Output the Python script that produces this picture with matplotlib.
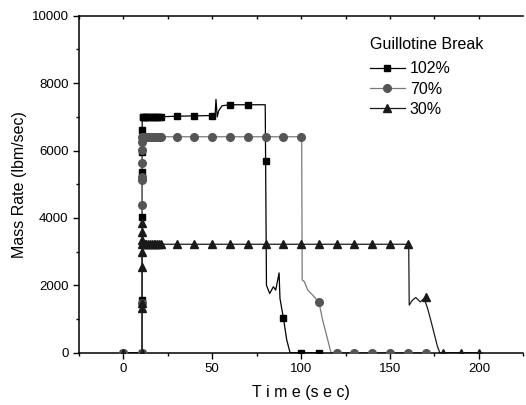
import matplotlib
matplotlib.use("Agg")
import matplotlib.pyplot as plt
from matplotlib.lines import Line2D
from matplotlib.ticker import MultipleLocator

plt.rcParams['font.family'] = ['Liberation Sans', 'DejaVu Sans']

# ---------------- data ----------------
series_labels = ["102%", "70%", "30%"]

# continuous time histories (line)
t102_line = [0, 10.5, 10.6, 11, 20, 30, 40, 50, 51.6, 52.1, 52.8, 53.6, 55.5, 60, 70, 79.8,
             80.5, 82.3, 84.4, 85.7, 87.6, 88.1, 90, 91.9, 93.8, 100, 110]
v102_line = [0, 0, 6990, 7000, 7000, 7020, 7030, 7040, 7050, 7520, 7000, 7180, 7330, 7360, 7360, 7360,
             2000, 1760, 1960, 1860, 2370, 1610, 1040, 380, 0, 0, 0]

t70_line = [0, 10.5, 10.6, 11, 20, 30, 40, 50, 60, 70, 80, 90, 100.3,
            100.6, 101.8, 103.7, 106.5, 110, 112.1, 114.5, 116.8, 120, 130, 140, 150, 160, 170]
v70_line = [0, 0, 6410, 6410, 6410, 6410, 6410, 6410, 6410, 6410, 6410, 6410, 6410,
            2160, 2110, 1860, 1710, 1500, 970, 480, 0, 0, 0, 0, 0, 0, 0]

t30_line = [0, 10.5, 10.6, 11, 20, 60, 100, 140, 160.5,
            160.8, 162.6, 164.5, 167, 169.2, 171.1, 172.9, 174.8, 176.7, 178, 190, 200]
v30_line = [0, 0, 3220, 3220, 3220, 3220, 3220, 3220, 3220,
            1415, 1560, 1640, 1510, 1610, 1320, 970, 575, 180, 0, 0, 0]

# symbol positions
t102_mk = [0, 10.5, 10.5, 10.5, 10.5, 10.5, 10.6, 10.8,
           11, 12, 13, 14, 15, 16, 17, 18, 19, 20, 21,
           30, 40, 50, 60, 70, 80, 90, 100, 110]
v102_mk = [0, 0, 1560, 4040, 5370, 5965, 6610, 7000,
           7000, 7000, 7000, 7000, 7000, 7000, 7000, 7000, 7000, 7000, 7000,
           7020, 7030, 7040, 7360, 7360, 5700, 1040, 0, 0]

t70_mk = [0, 10.5, 10.5, 10.5, 10.5, 10.5, 10.5, 10.5, 10.5, 10.6, 10.8,
          11.5, 12, 13, 14, 15, 16, 17, 18, 19, 20, 21,
          30, 40, 50, 60, 70, 80, 90, 100, 110, 120, 130, 140, 150, 160, 170]
v70_mk = [0, 0, 1466, 4380, 5125, 5220, 5620, 6015, 6260, 6410, 6410,
          6410, 6410, 6410, 6410, 6410, 6410, 6410, 6410, 6410, 6410, 6410,
          6410, 6410, 6410, 6410, 6410, 6410, 6410, 6410, 1500, 0, 0, 0, 0, 0, 0]

t30_mk = [0, 10.5, 10.5, 10.5, 10.5, 10.5, 10.5, 10.5, 10.5, 10.6,
          12, 13, 14, 15, 16, 17, 18, 19, 20, 21,
          30, 40, 50, 60, 70, 80, 90, 100, 110, 120, 130, 140, 150, 160, 170, 180, 190, 200]
v30_mk = [0, 0, 1320, 1466, 2550, 3000, 3340, 3590, 3840, 3220,
          3220, 3220, 3220, 3220, 3220, 3220, 3220, 3220, 3220, 3220,
          3220, 3220, 3220, 3220, 3220, 3220, 3220, 3220, 3220, 3220, 3220, 3220, 3220, 3220, 1650, 0, 0, 0]

x_ticks = [0, 50, 100, 150, 200]
y_ticks = [0, 2000, 4000, 6000, 8000, 10000]

# ---------------- figure ----------------
fig = plt.figure(figsize=(5.26, 4.05), dpi=100)
ax = fig.add_axes([0.150, 0.129, 0.845, 0.832])

black = "#000000"
gray_mk = "#555555"
gray_ln = "#7a7a7a"
dark = "#1a1a1a"

ax.plot(t102_line, v102_line, color=black, lw=0.9, zorder=2)
ax.plot(t70_line, v70_line, color=gray_ln, lw=0.9, zorder=2)
ax.plot(t30_line, v30_line, color=dark, lw=0.9, zorder=2)

ax.plot(t102_mk, v102_mk, ls="none", marker="s", ms=5, color=black, zorder=3)
ax.plot(t70_mk, v70_mk, ls="none", marker="o", ms=5.5, color=gray_mk, zorder=4)
ax.plot(t30_mk, v30_mk, ls="none", marker="^", ms=6.2, color=dark, zorder=5)

ax.set_xlim(-25, 225)
ax.set_ylim(0, 10000)
ax.set_xticks(x_ticks)
ax.set_yticks(y_ticks)
ax.xaxis.set_minor_locator(MultipleLocator(25))
ax.yaxis.set_minor_locator(MultipleLocator(1000))

for s in ["left", "bottom", "top"]:
    ax.spines[s].set_linewidth(1.1)
ax.spines["right"].set_visible(False)

ax.tick_params(axis="both", which="major", direction="out", length=4.5, width=1.0,
               labelsize=9.5, pad=3)
ax.tick_params(axis="both", which="minor", direction="out", length=2.3, width=1.0)
ax.tick_params(axis="x", which="both", top=False)
# top ticks inward
secx = ax.secondary_xaxis("top")
secx.set_xticks([-25] + [25 * i for i in range(0, 9)])
secx.tick_params(direction="in", length=2.3, width=1.0, labelsize=0)
secx.set_xticklabels([])
secx.spines["top"].set_visible(False)

ax.set_xlabel("T i m e (s e c)", fontsize=11.5, labelpad=7)
ax.set_ylabel("Mass Rate (lbm/sec)", fontsize=11.5, labelpad=3)

handles = [
    Line2D([], [], color=black, lw=0.9, marker="s", ms=5),
    Line2D([], [], color=gray_ln, lw=0.9, marker="o", ms=5.5, mfc=gray_mk, mec=gray_mk),
    Line2D([], [], color=dark, lw=0.9, marker="^", ms=6.2),
]
leg = ax.legend(handles, series_labels, title="Guillotine Break", frameon=False,
                loc="upper left", bbox_to_anchor=(0.64, 0.955), fontsize=11.5,
                title_fontsize=11.5, handlelength=2.2, handletextpad=0.3,
                labelspacing=0.33, borderaxespad=0, alignment="left")
leg._legend_box.sep = 6.5

fig.savefig("out.png", dpi=100)
